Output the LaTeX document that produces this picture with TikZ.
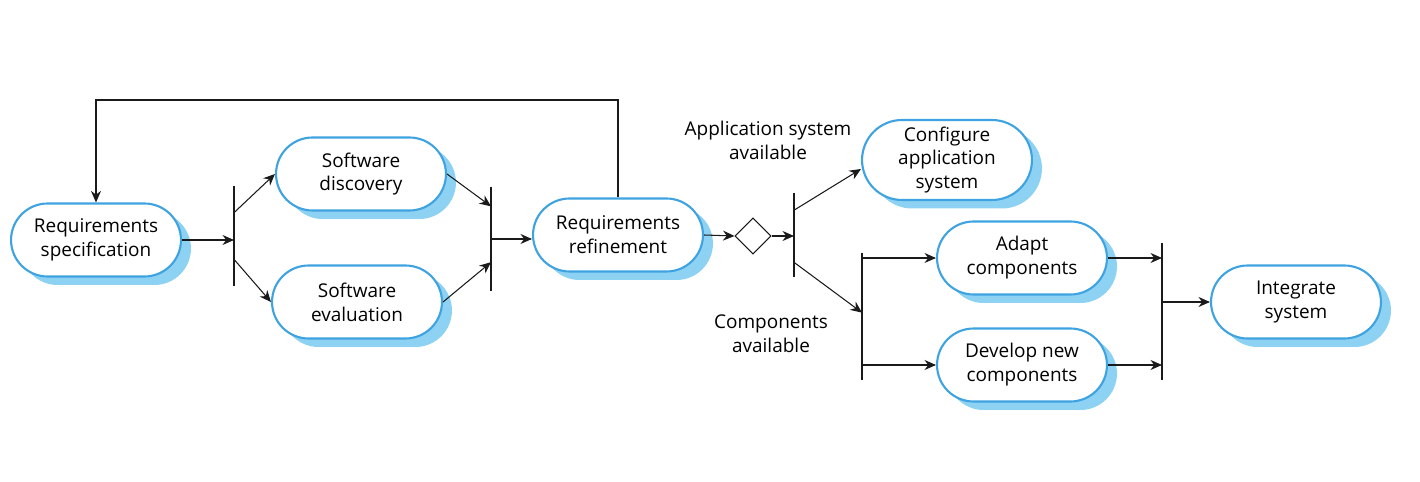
\documentclass[tikz,border=0pt]{standalone}
\usepackage{fontspec}
\setmainfont{Open Sans}
\usepackage{tikz}
\usetikzlibrary{shapes.misc, shapes.geometric, arrows.meta, calc, shadows}
\definecolor{bxBlue}{HTML}{3EA3E0}
\definecolor{bxShade}{HTML}{8ED2F3}
\definecolor{bxLine}{HTML}{1A1A1A}

\begin{document}
\begin{tikzpicture}[
  x=0.02cm, y=-0.02cm,
  font=\fontsize{10.8}{13.6}\selectfont,
  act/.style={rounded rectangle, draw=bxBlue, fill=white, line width=1.2pt, align=center,
              minimum width=3.54cm, minimum height=1.46cm, inner sep=2pt,
              drop shadow={shadow xshift=0.2cm, shadow yshift=-0.17cm, fill=bxShade, opacity=1}},
  bar/.style={draw=bxLine, line width=0.8pt, minimum width=0pt, inner sep=0pt},
  edge/.style={draw=bxLine, line width=0.6pt, -{Stealth[length=2.3mm, width=2mm]}},
  lbl/.style={align=center},
]
\useasboundingbox (0,0) rectangle (1420,482);

% activities
\node[act] (spec)  at (96,240)   {Requirements\\specification};
\node[act] (disc)  at (361,174)  {Software\\discovery};
\node[act] (eval)  at (357,302)  {Software\\evaluation};
\node[act] (refn)  at (618,235)  {Requirements\\refinement};
\node[act, minimum height=1.6cm] (conf) at (947,160) {Configure\\application\\system};
\node[act] (adapt) at (1022,258) {Adapt\\components};
\node[act] (dev)   at (1022,365) {Develop new\\components};
\node[act] (integ) at (1296,302) {Integrate\\system};

% decision
\node[diamond, draw=bxLine, line width=0.6pt, minimum width=0.72cm, minimum height=0.72cm,
      inner sep=0pt] (dia) at (753,236) {};

% fork / join bars
\node[bar, minimum height=2.0cm]  (f1) at (234,236)   {};
\node[bar, minimum height=2.08cm] (j1) at (491,239)   {};
\node[bar, minimum height=1.68cm] (f2) at (794,235)   {};
\node[bar, minimum height=2.54cm] (f3) at (862,316.5) {};
\node[bar, minimum height=2.74cm] (j2) at (1162,311.5){};

% guard labels
\node[lbl] (lapp)  at (768,140) {Application system\\available};
\node[lbl] (lcomp) at (771,334) {Components\\available};

% connectors
\coordinate (top) at (0,100);
\draw[edge] (spec.east) -- (spec.east -| f1);
\draw[edge] ($(f1.north)!0.27!(f1.south)$) -- (disc.west);
\draw[edge] ($(f1.north)!0.73!(f1.south)$) -- (eval.west);
\draw[edge] (disc.east) -- ($(j1.north)!0.19!(j1.south)$);
\draw[edge] (eval.east) -- ($(j1.north)!0.72!(j1.south)$);
\draw[edge] (j1) -- (j1 -| refn.west);
\draw[edge] (refn.north) -- (refn.north |- top) -| (spec.north);
\draw[edge] (refn.east) -- (dia.west);
\draw[edge] (dia.east) -- (dia.east -| f2);
\draw[edge] ($(f2.north)!0.21!(f2.south)$) -- ([yshift=-0.18cm]conf.west);
\draw[edge] ($(f2.north)!0.82!(f2.south)$) -- ($(f3.north)!0.47!(f3.south)$);
\draw[edge] (f3 |- adapt.west) -- (adapt.west);
\draw[edge] (f3 |- dev.west) -- (dev.west);
\draw[edge] (adapt.east) -- (adapt.east -| j2);
\draw[edge] (dev.east) -- (dev.east -| j2);
\draw[edge] (j2 |- integ.west) -- (integ.west);
\end{tikzpicture}
\end{document}
